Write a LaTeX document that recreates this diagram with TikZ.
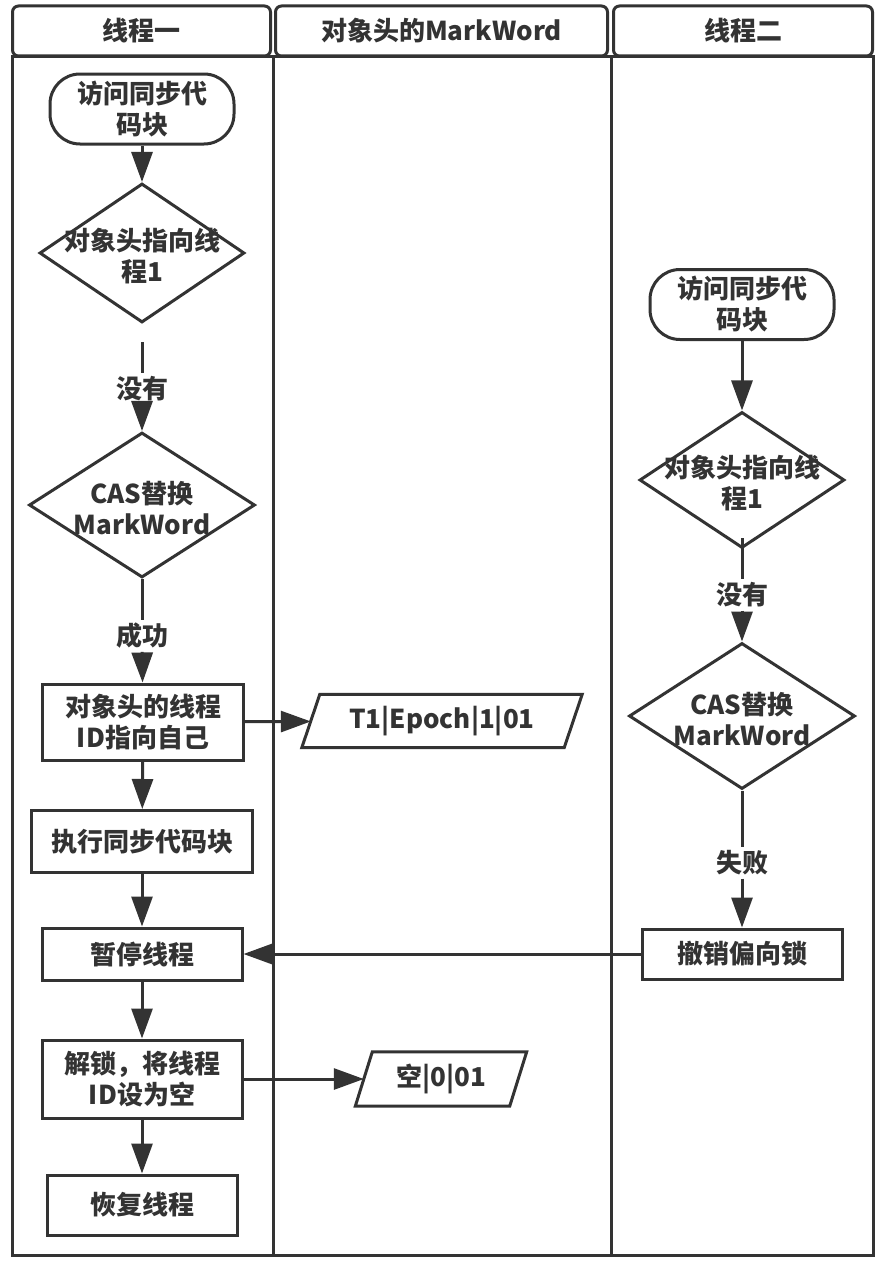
\documentclass[tikz,border=0pt]{standalone}
\usepackage{fontspec}
\setmainfont{Noto Sans CJK SC}
\usetikzlibrary{arrows.meta,shapes.geometric,calc}
\definecolor{ink}{HTML}{333333}
\tikzset{
  x=1pt, y=-1pt,
  every node/.style={font=\fontsize{26}{31}\selectfont\bfseries, text=ink, align=center},
  lane/.style={draw=ink, line width=3pt},
  hdr/.style={draw=ink, line width=3pt, rounded corners=6pt, minimum height=50pt, inner sep=0pt},
  term/.style={draw=ink, line width=3pt, rounded corners=30pt, minimum width=184pt, minimum height=70pt, inner sep=0pt},
  proc/.style={draw=ink, line width=3pt, inner sep=0pt},
  dec/.style={draw=ink, line width=3pt, diamond, inner sep=0pt},
  io/.style={inner sep=0pt},
  iobox/.style={draw=ink, line width=3pt, line join=miter},
  flow/.style={draw=ink, line width=3pt, -{Triangle[length=30pt,width=21pt]}},
  plain/.style={draw=ink, line width=3pt},
  cond/.style={inner sep=3pt},
}
\begin{document}
\begin{tikzpicture}
\useasboundingbox (0,0) rectangle (882,1263);
% lanes
\draw[lane] (12,57) rectangle (873,1255);
\draw[lane] (273,57) -- (273,1255);
\draw[lane] (611.5,57) -- (611.5,1255);
\node[hdr, minimum width=258pt] (h1) at (141.5,31) {线程一};
\node[hdr, minimum width=332pt] (h2) at (441.5,31) {对象头的MarkWord};
\node[hdr, minimum width=259pt] (h3) at (743,31) {线程二};

% lane 1
\node[term] (t1) at (142,109) {访问同步代\\码块};
\node[dec, minimum width=205pt, minimum height=139pt,
      label={[align=center,yshift=-3pt]center:对象头指向线\\程1}] (d1) at (142,253) {};
\coordinate (g1) at (142,342);
\node[cond] (n1) at (142,389) {没有};
\node[dec, minimum width=226pt, minimum height=145pt,
      label={[align=center,yshift=-3pt]center:CAS替换\\MarkWord}] (d2) at (142,505) {};
\node[cond] (s1) at (142,636) {成功};
\node[proc, minimum width=201pt, minimum height=76pt] (b1) at (143,722) {对象头的线程\\ID指向自己};
\node[io, minimum width=262pt, minimum height=53pt] (p1) at (442,721) {T1|Epoch|1|01};
\draw[iobox] ($(p1.south west)+(-9,0)$) -- ($(p1.south east)+(-9,0)$) -- ($(p1.north east)+(9,0)$) -- ($(p1.north west)+(9,0)$) -- cycle;
\node[proc, minimum width=221pt, minimum height=62pt] (b2) at (142,841.5) {执行同步代码块};
\node[proc, minimum width=200pt, minimum height=52pt] (b3) at (142,954) {暂停线程};
\node[proc, minimum width=200pt, minimum height=78pt] (b4) at (142,1079) {解锁，将线程\\ID设为空};
\node[io, minimum width=154pt, minimum height=54pt] (p2) at (441,1079) {空|0|01};
\draw[iobox] ($(p2.south west)+(-8.5,0)$) -- ($(p2.south east)+(-8.5,0)$) -- ($(p2.north east)+(8.5,0)$) -- ($(p2.north west)+(8.5,0)$) -- cycle;
\node[proc, minimum width=190pt, minimum height=60pt] (b5) at (142,1205) {恢复线程};

% lane 3
\node[term] (t2) at (742,304.5) {访问同步代\\码块};
\node[dec, minimum width=205pt, minimum height=136pt,
      label={[align=center,yshift=-3pt]center:对象头指向线\\程1}] (d3) at (742,480) {};
\coordinate (g2) at (742,538);
\node[cond] (n2) at (742,595) {没有};
\node[dec, minimum width=226pt, minimum height=146pt,
      label={[align=center,yshift=-3pt]center:CAS替换\\MarkWord}] (d4) at (742,716) {};
\node[cond] (f2) at (742,863) {失败};
\node[proc, minimum width=200pt, minimum height=50pt] (b6) at (742,954) {撤销偏向锁};

% connectors lane 1
\draw[flow] (t1) -- (d1);
\draw[plain] (g1) -- (n1);
\draw[flow] (n1) -- (d2);
\draw[plain] (d2) -- (s1);
\draw[flow] (s1) -- (b1);
\draw[flow] (b1) -- (p1);
\draw[flow] (b1) -- (b2);
\draw[flow] (b2) -- (b3);
\draw[flow] (b3) -- (b4);
\draw[flow] (b4) -- (p2);
\draw[flow] (b4) -- (b5);
% connectors lane 3
\draw[flow] (t2) -- (d3);
\draw[plain] (g2) -- (n2);
\draw[flow] (n2) -- (d4);
\draw[plain] (d4) -- (f2);
\draw[flow] (f2) -- (b6);
\draw[flow] (b6) -- (b3);
\end{tikzpicture}
\end{document}
